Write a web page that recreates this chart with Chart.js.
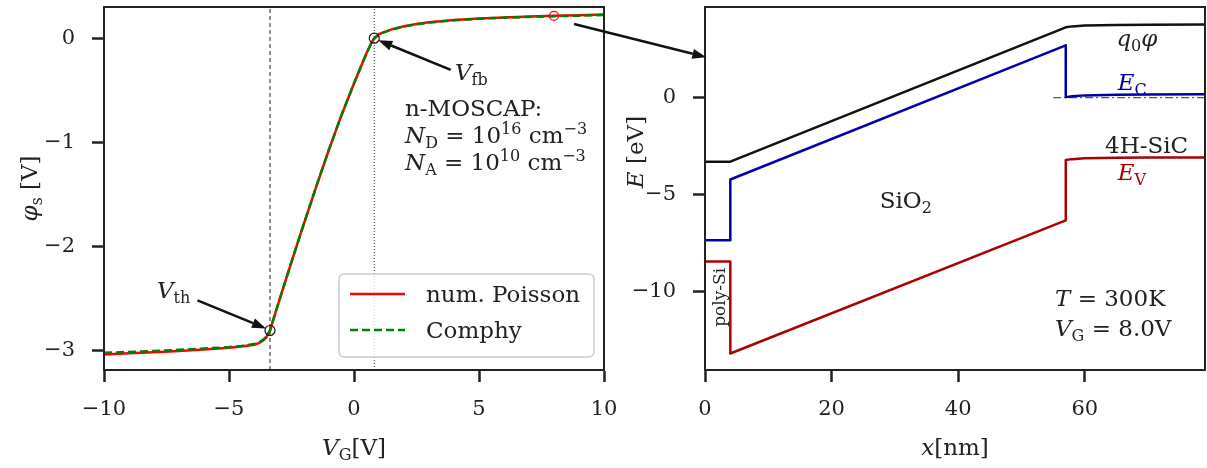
<!DOCTYPE html>
<html>
<head>
<meta charset="utf-8">
<script src="https://cdn.jsdelivr.net/npm/chart.js@4.4.0/dist/chart.umd.min.js"></script>
<style>
html, body { margin: 0; padding: 0; background: #fff; }
#wrap { position: relative; width: 1207px; height: 468px; }
#wrap canvas { position: absolute; left: 0; top: 0; }
</style>
</head>
<body>
<div id="wrap">
  <canvas id="left" width="1207" height="468"></canvas>
  <canvas id="right" width="1207" height="468"></canvas>
</div>
<script>
// ---- left panel: surface potential vs gate voltage ----
let vg = [-10, -9, -8, -7, -6, -5, -4.5, -4, -3.8, -3.6, -3.5, -3.4, -3.36, -3.2, -3.0, -2.5, -2.0, -1.5, -1.0, -0.5, 0, 0.3, 0.5, 0.7, 0.8, 1.0, 1.5, 2, 2.5, 3, 4, 5, 6, 7, 8, 9, 10];
let phiPoisson = [-3.04, -3.03, -3.02, -3.007, -2.993, -2.977, -2.965, -2.947, -2.932, -2.9, -2.872, -2.832, -2.81, -2.685, -2.53, -2.15, -1.78, -1.42, -1.07, -0.74, -0.435, -0.26, -0.145, -0.045, -0.005, 0.04, 0.085, 0.115, 0.137, 0.153, 0.175, 0.19, 0.2, 0.208, 0.215, 0.221, 0.227];
let phiComphy = [-3.025, -3.016, -3.007, -2.996, -2.984, -2.97, -2.958, -2.94, -2.925, -2.893, -2.866, -2.828, -2.81, -2.685, -2.53, -2.15, -1.78, -1.42, -1.07, -0.74, -0.435, -0.26, -0.145, -0.045, -0.005, 0.038, 0.082, 0.112, 0.134, 0.15, 0.172, 0.187, 0.197, 0.205, 0.211, 0.217, 0.223];
let vth = -3.36, phiVth = -2.81;
let vfb = 0.81, phiVfb = 0.0;
let vgBand = 8.0, phiBand = 0.215;
let leftXTicks = [-10, -5, 0, 5, 10];
let leftYTicks = [-3, -2, -1, 0];

// ---- right panel: band diagram at VG = 8 V ----
let xPhi = [0, 4, 57, 58, 60, 65, 70, 79];
let ePhi = [-3.3, -3.3, 3.63, 3.68, 3.72, 3.75, 3.765, 3.78];
let xBand = [0, 4, 4, 57, 57, 58, 60, 65, 70, 79];
let eC = [-7.35, -7.35, -4.22, 2.7, 0.03, 0.08, 0.12, 0.15, 0.165, 0.18];
let eV = [-8.45, -8.45, -13.2, -6.33, -3.22, -3.17, -3.13, -3.1, -3.09, -3.08];
let xFermi = [55, 79];
let eFermi = [0, 0];
let rightXTicks = [0, 20, 40, 60];
let rightYTicks = [-10, -5, 0];

const INK = '#222';
const FONT = '"DejaVu Serif", "Liberation Serif", serif';
const BLUE = '#0000aa';
const DRED = '#aa0000';
const TXT = 23;

function pairs(xs, ys) {
    return xs.map((x, i) => ({ x: x, y: ys[i] }));
}

function fmtTick(v) {
    return (v < 0 ? '\u2212' : '') + Math.abs(v);
}

// text with italic / sub / superscript pieces
function fontFor(st, size) {
    let small = (st === 'sub' || st === 'sup');
    return (st === 'i' ? 'italic ' : '') + (small ? Math.round(size * 0.7) : size) + 'px ' + FONT;
}
function drawRich(ctx, segs, x, y, size, align, color) {
    let w = 0;
    segs.forEach(([t, st]) => { ctx.font = fontFor(st, size); w += ctx.measureText(t).width; });
    let cx = align === 'center' ? x - w / 2 : (align === 'right' ? x - w : x);
    ctx.fillStyle = color || INK;
    ctx.textAlign = 'left';
    ctx.textBaseline = 'alphabetic';
    segs.forEach(([t, st]) => {
        ctx.font = fontFor(st, size);
        let dy = st === 'sub' ? size * 0.22 : (st === 'sup' ? -size * 0.42 : 0);
        ctx.fillText(t, cx, y + dy);
        cx += ctx.measureText(t).width;
    });
}
function drawRotated(ctx, segs, x, y, size, color) {
    ctx.save();
    ctx.translate(x, y);
    ctx.rotate(-Math.PI / 2);
    drawRich(ctx, segs, 0, 0, size, 'center', color);
    ctx.restore();
}

function arrow(ctx, x1, y1, x2, y2) {
    let a = Math.atan2(y2 - y1, x2 - x1);
    let hl = 14, hw = 5;
    let bx = x2 - hl * Math.cos(a), by = y2 - hl * Math.sin(a);
    ctx.save();
    ctx.strokeStyle = '#111';
    ctx.fillStyle = '#111';
    ctx.lineWidth = 2.5;
    ctx.beginPath();
    ctx.moveTo(x1, y1);
    ctx.lineTo(bx, by);
    ctx.stroke();
    ctx.beginPath();
    ctx.moveTo(x2, y2);
    ctx.lineTo(bx + hw * Math.sin(a), by - hw * Math.cos(a));
    ctx.lineTo(bx - hw * Math.sin(a), by + hw * Math.cos(a));
    ctx.closePath();
    ctx.fill();
    ctx.restore();
}

function frame(chart) {
    let ca = chart.chartArea, ctx = chart.ctx;
    ctx.save();
    ctx.strokeStyle = INK;
    ctx.lineWidth = 2;
    ctx.strokeRect(ca.left, ca.top, ca.right - ca.left, ca.bottom - ca.top);
    ctx.restore();
}

function axisCfg(min, max, ticks, isX, size) {
    return {
        type: 'linear',
        min: min,
        max: max,
        afterBuildTicks: s => { s.ticks = ticks.map(v => ({ value: v })); },
        afterFit: s => {
            if (isX) s.height = size; else s.width = size;
            s.paddingTop = 0; s.paddingBottom = 0; s.paddingLeft = 0; s.paddingRight = 0;
        },
        grid: { drawOnChartArea: false, drawTicks: true, tickLength: 12, tickWidth: 2.5, tickColor: INK },
        border: { display: true, color: INK, width: 2 },
        ticks: {
            color: INK,
            font: { family: FONT, size: 21 },
            padding: isX ? 15 : 17,
            maxRotation: 0,
            autoSkip: false,
            callback: v => fmtTick(v)
        }
    };
}

// ---------- left chart ----------
let leftDecor = {
    id: 'leftDecor',
    afterDraw(chart) {
        let ctx = chart.ctx, xs = chart.scales.x, ys = chart.scales.y, ca = chart.chartArea;
        frame(chart);
        let px = v => xs.getPixelForValue(v), py = v => ys.getPixelForValue(v);

        // axis titles
        drawRotated(ctx, [['\u03c6', 'i'], ['s', 'sub'], [' [V]', '']], ca.left - 67, (ca.top + ca.bottom) / 2, TXT);
        drawRich(ctx, [['V', 'i'], ['G', 'sub'], ['[V]', '']], (ca.left + ca.right) / 2, 455, TXT, 'center');

        // annotations
        arrow(ctx, px(-6.26), py(-2.52), px(vth) - 4, py(phiVth) - 2);
        drawRich(ctx, [['V', 'i'], ['th', 'sub']], px(-7.88), py(-2.50), TXT, 'left');
        arrow(ctx, px(3.87), py(-0.305), px(vfb) + 4, py(phiVfb) + 2);
        drawRich(ctx, [['V', 'i'], ['fb', 'sub']], px(4.04), py(-0.40), TXT, 'left');
        drawRich(ctx, [['n-MOSCAP:', '']], px(2.04), py(-0.75), TXT, 'left');
        drawRich(ctx, [['N', 'i'], ['D', 'sub'], [' = 10', ''], ['16', 'sup'], [' cm', ''], ['\u22123', 'sup']], px(2.04), py(-1.01), TXT, 'left');
        drawRich(ctx, [['N', 'i'], ['A', 'sub'], [' = 10', ''], ['10', 'sup'], [' cm', ''], ['\u22123', 'sup']], px(2.04), py(-1.27), TXT, 'left');

        // legend
        let lw = 255, lh = 83;
        let lx = ca.right - 10 - lw, ly = ca.bottom - 13 - lh;
        ctx.save();
        ctx.fillStyle = 'rgba(255,255,255,0.8)';
        ctx.strokeStyle = '#cccccc';
        ctx.lineWidth = 1.5;
        ctx.beginPath();
        ctx.roundRect(lx, ly, lw, lh, 5);
        ctx.fill();
        ctx.stroke();
        ctx.lineWidth = 2.5;
        ctx.strokeStyle = 'red';
        ctx.beginPath(); ctx.moveTo(lx + 11, ly + 20); ctx.lineTo(lx + 66, ly + 20); ctx.stroke();
        ctx.strokeStyle = 'green';
        ctx.setLineDash([8, 4]);
        ctx.beginPath(); ctx.moveTo(lx + 11, ly + 56); ctx.lineTo(lx + 66, ly + 56); ctx.stroke();
        ctx.restore();
        drawRich(ctx, [['num. Poisson', '']], lx + 87, ly + 28, TXT, 'left');
        drawRich(ctx, [['Comphy', '']], lx + 87, ly + 64, TXT, 'left');
    }
};

let yMinL = -3.19, yMaxL = 0.30;

let leftChart = new Chart(document.getElementById('left'), {
    type: 'scatter',
    data: {
        datasets: [
            { label: 'vth line', data: pairs([vth, vth], [yMinL, yMaxL]), showLine: true, borderColor: INK, borderWidth: 1, borderDash: [4, 3], pointRadius: 0, order: 5 },
            { label: 'vfb line', data: pairs([vfb, vfb], [yMinL, yMaxL]), showLine: true, borderColor: INK, borderWidth: 1, borderDash: [1, 2], pointRadius: 0, order: 5 },
            { label: 'num. Poisson', data: pairs(vg, phiPoisson), showLine: true, borderColor: 'red', borderWidth: 2.5, pointRadius: 0, order: 3 },
            { label: 'Comphy', data: pairs(vg, phiComphy), showLine: true, borderColor: 'green', borderWidth: 2.5, borderDash: [8, 4], pointRadius: 0, order: 2 },
            { label: 'marks', data: pairs([vth, vfb], [phiVth, phiVfb]), showLine: false, pointRadius: 5, pointBorderWidth: 1.2, pointBorderColor: '#111', pointBackgroundColor: 'rgba(0,0,0,0)', order: 1 },
            { label: 'band point', data: pairs([vgBand], [phiBand]), showLine: false, pointRadius: 4.5, pointBorderWidth: 1.2, pointBorderColor: 'red', pointBackgroundColor: 'rgba(0,0,0,0)', order: 1 }
        ]
    },
    options: {
        responsive: false,
        animation: false,
        layout: { padding: { left: 0, right: 603, top: 7, bottom: 0 } },
        plugins: { legend: { display: false }, tooltip: { enabled: false } },
        scales: {
            x: axisCfg(-10, 10, leftXTicks, true, 98),
            y: axisCfg(yMinL, yMaxL, leftYTicks, false, 104)
        }
    },
    plugins: [leftDecor]
});

// ---------- right chart ----------
let rightDecor = {
    id: 'rightDecor',
    afterDraw(chart) {
        let ctx = chart.ctx, xs = chart.scales.x, ys = chart.scales.y, ca = chart.chartArea;
        frame(chart);
        let px = v => xs.getPixelForValue(v), py = v => ys.getPixelForValue(v);

        drawRotated(ctx, [['E', 'i'], [' [eV]', '']], ca.left - 62, 152, TXT);
        drawRich(ctx, [['x', 'i'], ['[nm]', '']], (ca.left + ca.right) / 2, 455, TXT, 'center');

        drawRich(ctx, [['q', 'i'], ['0', 'sub'], ['\u03c6', 'i']], px(65.0), py(2.67), TXT, 'left');
        drawRich(ctx, [['E', 'i'], ['C', 'sub']], px(65.2), py(0.40), TXT, 'left', BLUE);
        drawRich(ctx, [['4H-SiC', '']], px(63.2), py(-2.86), TXT, 'left');
        drawRich(ctx, [['E', 'i'], ['V', 'sub']], px(65.2), py(-4.26), TXT, 'left', DRED);
        drawRich(ctx, [['SiO', ''], ['2', 'sub']], px(27.6), py(-5.71), TXT, 'left');
        drawRich(ctx, [['T', 'i'], [' = 300K', '']], px(55.3), py(-10.73), TXT, 'left');
        drawRich(ctx, [['V', 'i'], ['G', 'sub'], [' = 8.0V', '']], px(55.3), py(-12.28), TXT, 'left');
        drawRotated(ctx, [['poly-Si', '']], px(2.2) + 6, py(-10.3), 17);

        // arrow from the VG = 8 V point to this band diagram
        let lx = leftChart.scales.x, ly = leftChart.scales.y;
        arrow(ctx, lx.getPixelForValue(8.8), ly.getPixelForValue(0.137), px(0.2), py(2.09));
    }
};

new Chart(document.getElementById('right'), {
    type: 'scatter',
    data: {
        datasets: [
            { label: 'EF', data: pairs(xFermi, eFermi), showLine: true, borderColor: '#333', borderWidth: 1, borderDash: [8, 3, 2, 3], pointRadius: 0, order: 4 },
            { label: 'q0phi', data: pairs(xPhi, ePhi), showLine: true, borderColor: '#111', borderWidth: 2.5, borderJoinStyle: 'round', pointRadius: 0, order: 3 },
            { label: 'EC', data: pairs(xBand, eC), showLine: true, borderColor: BLUE, borderWidth: 2.5, borderJoinStyle: 'round', pointRadius: 0, order: 2 },
            { label: 'EV', data: pairs(xBand, eV), showLine: true, borderColor: DRED, borderWidth: 2.5, borderJoinStyle: 'round', pointRadius: 0, order: 1 }
        ]
    },
    options: {
        responsive: false,
        animation: false,
        layout: { padding: { left: 605, right: 2, top: 7, bottom: 0 } },
        plugins: { legend: { display: false }, tooltip: { enabled: false } },
        scales: {
            x: axisCfg(0, 79, rightXTicks, true, 98),
            y: axisCfg(-14.05, 4.68, rightYTicks, false, 100)
        }
    },
    plugins: [rightDecor]
});
</script>
</body>
</html>
